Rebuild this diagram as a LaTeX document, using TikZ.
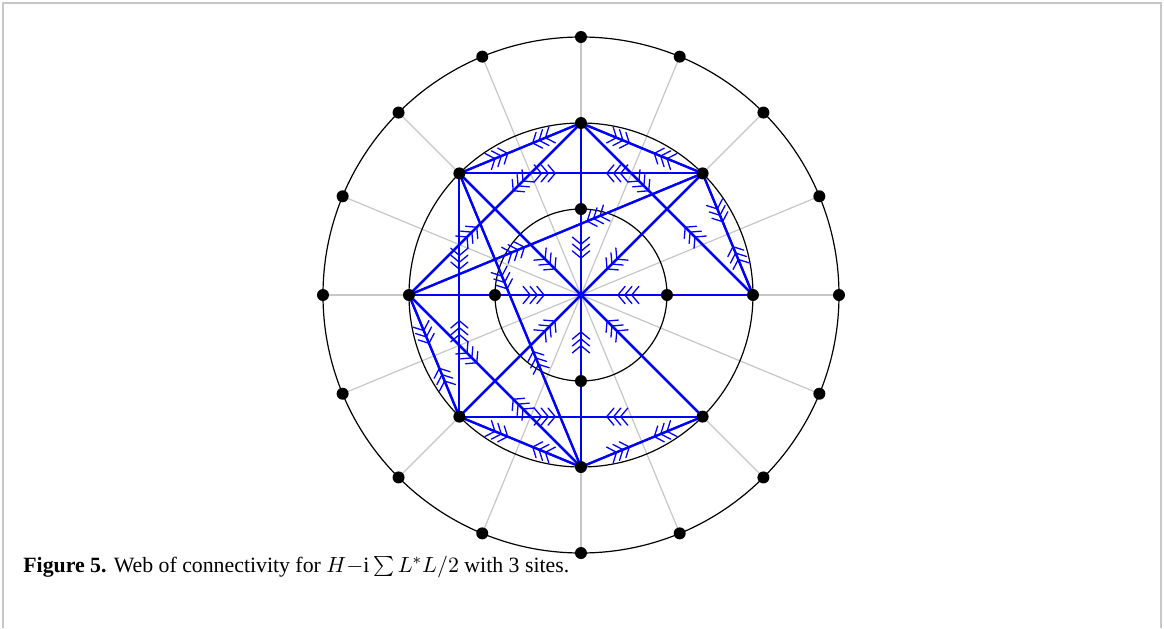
\documentclass[tikz,border=0pt]{standalone}
\usepackage{fontspec}
\setmainfont{Liberation Serif}
\usetikzlibrary{arrows.meta,decorations.markings}

\tikzset{
  barb/.tip={Straight Barb[length=3.6pt,width=8.6pt,line width=0.65pt,round,sep=-0.8pt]}
}

\begin{document}
\begin{tikzpicture}[x=0.5pt,y=0.5pt,
    spoke/.style={gray!45, line width=0.6pt},
    ring/.style={black, line width=0.6pt},
    link/.style={blue, line width=1.1pt, postaction={decorate},
      decoration={markings, mark=at position 0.39 with {\arrow{barb[] barb[] barb[]}}}},
    dot/.style={circle, fill=black, inner sep=0pt, minimum size=6pt}]
  \useasboundingbox (-581,-333) rectangle (583,295);

  % frame
  \draw[black!22, line width=1pt] (-578,-333) -- (-578,292) -- (580,292) -- (580,-333);

  % sites on the three rings
  \coordinate (c) at (0,0);
  \foreach \k in {0,...,15} \coordinate (o\k) at (\k*22.5:258);
  \foreach \a in {0,45,...,315} \coordinate (m\a) at (\a:172);
  \foreach \a in {0,90,180,270} \coordinate (i\a) at (\a:86);

  % spokes and rings
  \foreach \k in {0,...,15} \draw[spoke] (c) -- (o\k);
  \foreach \r in {86,172,258} \draw[ring] (c) circle[radius=\r];

  % links, both ways
  \foreach \a/\b in {180/0, 90/270, 135/315, 45/225, 135/45, 225/315,
                     135/225, 135/90, 90/45, 45/0, 180/225, 225/270,
                     270/315, 180/90, 90/0, 180/45, 135/270, 180/270}{
    \draw[link] (m\a) -- (m\b);
    \draw[link] (m\b) -- (m\a);
  }

  % dots
  \foreach \k in {0,...,15} \node[dot] (so\k) at (o\k) {};
  \foreach \a in {0,45,...,315} \node[dot] (sm\a) at (m\a) {};
  \foreach \a in {0,90,180,270} \node[dot] (si\a) at (i\a) {};

  % caption
  \node[anchor=base west, inner sep=0pt, font=\fontsize{10.9}{13}\selectfont] (caption) at (-558,-277)
    {\textbf{Figure 5.} Web of connectivity for $H{-}\mathrm{i}\sum L^{*}L/2$ with 3 sites.};
\end{tikzpicture}
\end{document}
